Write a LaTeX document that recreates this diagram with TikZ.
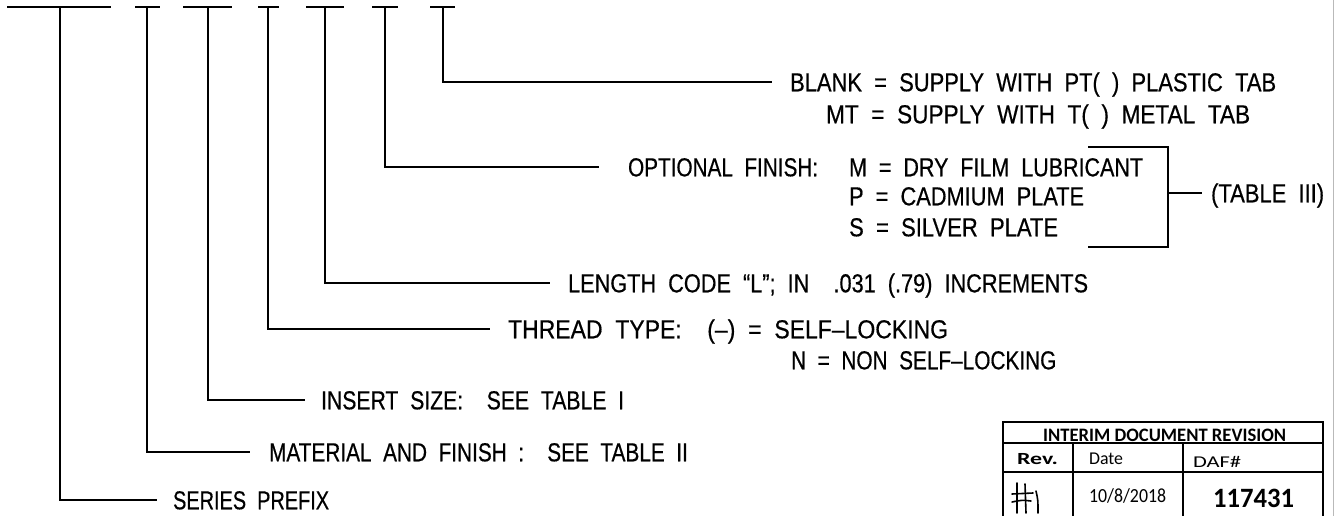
\documentclass[tikz,border=0pt]{standalone}
\usepackage{fontspec}
\setmainfont{Liberation Sans}[WordSpace=2,FakeBold=0.5,FakeStretch=0.8]
\newfontfamily\tabfont{Carlito}
\usepackage{graphicx}
\newlength\fitlen
\newcommand\fitw[2]{\settowidth\fitlen{#2}\pgfmathsetmacro\fitf{#1/\fitlen}\scalebox{\fitf}[1]{#2}}
\begin{document}
\begin{tikzpicture}[x=1pt,y=-1pt,line width=2.2pt,
  lbl/.style={anchor=west,inner ysep=0pt,inner xsep=#1,text height=18.6pt,text depth=0pt,
    font=\fontsize{26}{30}\selectfont},
  lbl/.default=0pt,
  tbl/.style={line width=2pt},
  tcell/.style={anchor=base west,inner sep=0pt},
  hand/.style={line width=1.6pt,line cap=round}]
\useasboundingbox (0,0) rectangle (1335,516);
% faint scan line at right edge
\draw[gray!55,line width=1pt] (1333,0) -- (1333,516);
% top bars
\draw (7,7) -- (111,7);
\draw (135,7) -- (160,7);
\draw (183,7) -- (232,7);
\draw (258,7) -- (279,7);
\draw (306,7) -- (344,7);
\draw (372,7) -- (398,7);
\draw (430,7) -- (455,7);
\coordinate (t1) at (60,7);
\coordinate (t2) at (147,7);
\coordinate (t3) at (208,7);
\coordinate (t4) at (268,7);
\coordinate (t5) at (325,7);
\coordinate (t6) at (385,7);
\coordinate (t7) at (443,7);
% labels
\node[lbl=17pt] (blank) at (772,82) {\fitw{486}{BLANK = SUPPLY WITH PT( ) PLASTIC TAB}};
\node[lbl] (mt) at (825,114) {\fitw{424}{MT = SUPPLY WITH T( ) METAL TAB}};
\node[lbl=28pt] (opt) at (599,167) {\fitw{190}{OPTIONAL FINISH:}};
\node[lbl] (optm) at (848,167) {\fitw{294}{M = DRY FILM LUBRICANT}};
\node[lbl] (optp) at (848,196) {\fitw{235}{P = CADMIUM PLATE}};
\node[lbl] (opts) at (848,227) {\fitw{209}{S = SILVER PLATE}};
\node[lbl=8pt] (tab3) at (1202,193) {\fitw{113}{(TABLE III)}};
\node[lbl=17pt] (len) at (550,283) {\fitw{520}{LENGTH CODE ``L''; IN\ \ .031 (.79) INCREMENTS}};
\node[lbl=17pt] (thr) at (490,329) {\fitw{440}{THREAD TYPE:\ \ (--) = SELF--LOCKING}};
\node[lbl] (thrn) at (790,360) {N = NON SELF--LOCKING};
\node[lbl=15pt] (ins) at (305,400) {\fitw{303}{INSERT SIZE:\ \ SEE TABLE I}};
\node[lbl=18pt] (mat) at (250,452) {MATERIAL AND FINISH :\ \ SEE TABLE II};
\node[lbl=15pt] (ser) at (157,500) {\fitw{156}{SERIES PREFIX}};
% connectors
\draw (t7) |- (blank.west);
\draw (t6) |- (opt.west);
\draw (t5) |- (len.west);
\draw (t4) |- (thr.west);
\draw (t3) |- (ins.west);
\draw (t2) |- (mat.west);
\draw (t1) |- (ser.west);
% bracket for table III
\coordinate (brt) at (1088,147);
\coordinate (brb) at (1088,247);
\coordinate (brm) at (1168,193);
\draw (brt) -- (1168,147) -- (1168,247) -- (brb);
\draw (brm) -- (tab3.west);
% revision table
\draw[tbl] (1003,516) -- (1003,422) -- (1323,422) -- (1323,516);
\draw[tbl] (1003,443) -- (1323,443);
\draw[tbl] (1003,472) -- (1323,472);
\draw[tbl] (1073,443) -- (1073,516);
\draw[tbl] (1183,443) -- (1183,516);
\node[tcell,font=\tabfont\bfseries\fontsize{19}{20}\selectfont] (hdr) at (1042,441) {\fitw{243}{INTERIM DOCUMENT REVISION}};
\node[tcell,font=\tabfont\bfseries\fontsize{17}{20}\selectfont] (rev) at (1016,464) {\fitw{41}{Rev.}};
\node[tcell,font=\tabfont\fontsize{18}{20}\selectfont] (date) at (1088,464) {\fitw{34}{Date}};
\node[tcell,font=\tabfont\fontsize{16.5}{20}\selectfont] (daf) at (1192,467) {\fitw{48}{DAF\#}};
\node[tcell,font=\tabfont\fontsize{20}{22}\selectfont] (dt) at (1088,502) {\fitw{77}{10/8/2018}};
\node[tcell,font=\tabfont\bfseries\fontsize{28}{30}\selectfont] (num) at (1212,507) {\fitw{81}{117431}};
% handwritten initials
\draw[hand] (1017,483) -- (1017,513);
\draw[hand] (1025,484) -- (1026,513);
\draw[hand] (1012,494) -- (1033,493);
\draw[hand] (1012,502) .. controls (1022,500) .. (1031,501);
\draw[hand] (1036,491) .. controls (1038,500) .. (1038,513);
\end{tikzpicture}
\end{document}
